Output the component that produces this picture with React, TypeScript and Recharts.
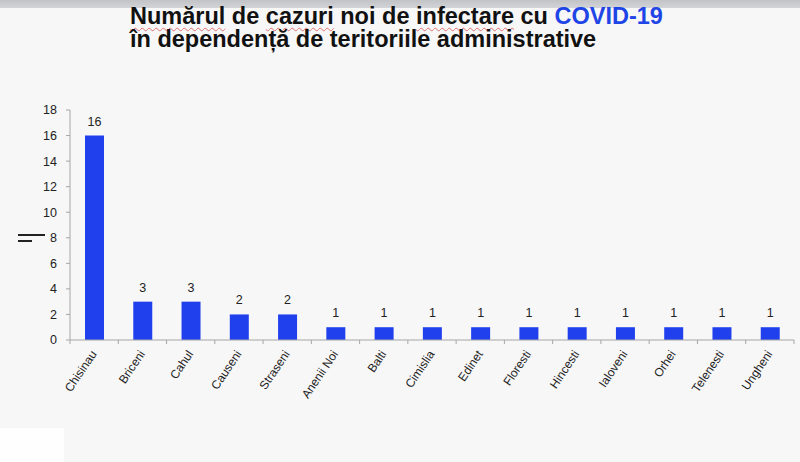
import React from "react";
import { BarChart, Bar, XAxis, YAxis, LabelList } from "recharts";

// Date
const categories = [
  "Chisinau",
  "Briceni",
  "Cahul",
  "Causeni",
  "Straseni",
  "Anenii Noi",
  "Balti",
  "Cimislia",
  "Edinet",
  "Floresti",
  "Hincesti",
  "Ialoveni",
  "Orhei",
  "Telenesti",
  "Ungheni",
];
const cases = [16, 3, 3, 2, 2, 1, 1, 1, 1, 1, 1, 1, 1, 1, 1];
const yTicks = [0, 2, 4, 6, 8, 10, 12, 14, 16, 18];

const FONT = '"Liberation Sans", Arial, sans-serif';
const BAR_COLOR = "#2040ee";
const AXIS_COLOR = "#a6a6a6";

const W = 800;
const H = 462;
const MARGIN = { top: 110, right: 6, bottom: 22, left: 10 };
const Y_AXIS_W = 60;
const X_AXIS_H = 100;
const PLOT_W = W - MARGIN.left - MARGIN.right - Y_AXIS_W;
const BAND = PLOT_W / categories.length;

const data = categories.map((name, i) => ({ name, value: cases[i] }));

// tick pe axa X: liniuta la marginea categoriei + eticheta rotita
function XTick({ x, y, payload, index }: any) {
  const half = BAND / 2;
  return (
    <g>
      <line x1={x - half} x2={x - half} y1={y} y2={y + 4} stroke={AXIS_COLOR} />
      {index === categories.length - 1 && (
        <line x1={x + half} x2={x + half} y1={y} y2={y + 4} stroke={AXIS_COLOR} />
      )}
      <g transform={`translate(${x + 3},${y + 14})`}>
        <text
          transform="rotate(-56)"
          textAnchor="end"
          fontSize={12}
          fontFamily={FONT}
          fill="#222"
        >
          {payload.value}
        </text>
      </g>
    </g>
  );
}

const underline: React.CSSProperties = {
  textDecoration: "underline wavy #e07070",
  textDecorationThickness: 1,
  textUnderlineOffset: 3,
};

export default function App() {
  return (
    <div
      style={{
        position: "absolute",
        left: 0,
        top: 0,
        width: W,
        height: H,
        background: "#f7f7f7",
        overflow: "hidden",
        fontFamily: FONT,
      }}
    >
      {/* banda gri de sus */}
      <div
        style={{
          position: "absolute",
          left: 0,
          top: 0,
          width: W,
          height: 8,
          background: "linear-gradient(#c2c3c6, #d3d4d7)",
        }}
      />
      {/* titlu */}
      <div
        style={{
          position: "absolute",
          left: 130,
          top: 5,
          fontSize: 23.5,
          lineHeight: "23px",
          fontWeight: "bold",
          color: "#111",
          whiteSpace: "nowrap",
        }}
      >
        <div>
          <span style={underline}>Numărul</span> de <span style={underline}>cazuri</span> noi de{" "}
          <span style={underline}>infectare</span> cu <span style={{ color: "#1f45e6" }}>COVID-19</span>
        </div>
        <div>în dependență de teritoriile administrative</div>
      </div>
      {/* semnul din stanga */}
      <div style={{ position: "absolute", left: 18, top: 234, width: 27, height: 2, background: "#222" }} />
      <div style={{ position: "absolute", left: 18, top: 240, width: 14, height: 2, background: "#222" }} />
      {/* dreptunghi alb jos */}
      <div style={{ position: "absolute", left: 0, top: 428, width: 64, height: 34, background: "#fefefe" }} />

      <div style={{ position: "absolute", left: 0, top: 0 }}>
        <BarChart width={W} height={H} data={data} margin={MARGIN} barSize={19}>
          <XAxis
            dataKey="name"
            interval={0}
            height={X_AXIS_H}
            tickSize={0}
            tickMargin={0}
            tickLine={false}
            axisLine={{ stroke: AXIS_COLOR }}
            tick={<XTick />}
          />
          <YAxis
            width={Y_AXIS_W}
            domain={[0, 18]}
            ticks={yTicks}
            interval={0}
            tickSize={4}
            tickMargin={9}
            axisLine={{ stroke: AXIS_COLOR }}
            tickLine={{ stroke: AXIS_COLOR }}
            tick={{ fontSize: 12.5, fontFamily: FONT, fill: "#222" }}
          />
          <Bar dataKey="value" fill={BAR_COLOR} isAnimationActive={false}>
            <LabelList
              dataKey="value"
              position="top"
              offset={10}
              fontSize={12.5}
              fontFamily={FONT}
              fill="#222"
            />
          </Bar>
        </BarChart>
      </div>
    </div>
  );
}
